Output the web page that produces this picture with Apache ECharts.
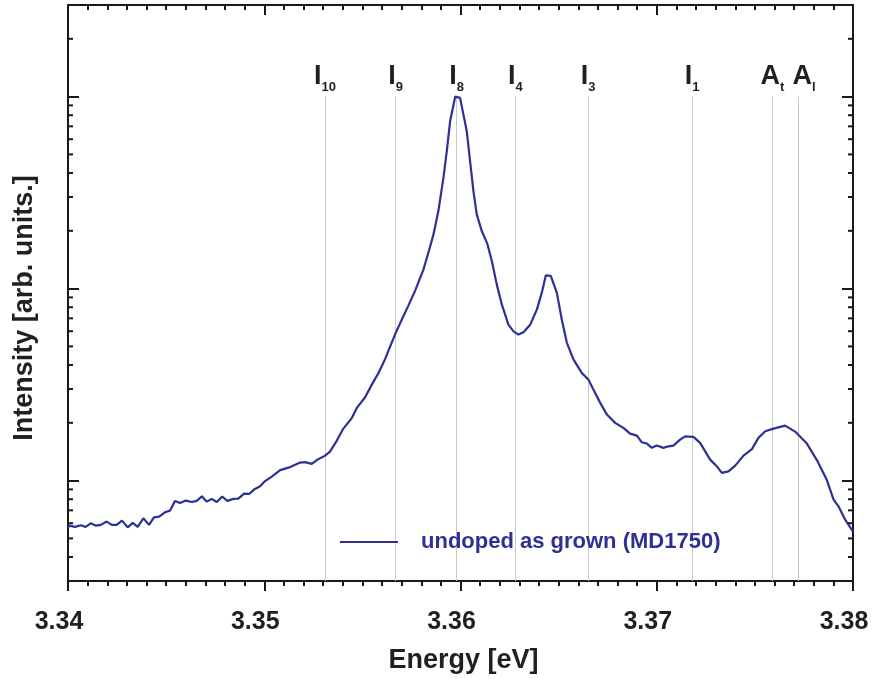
<!DOCTYPE html>
<html>
<head>
<meta charset="utf-8">
<script src="https://cdn.jsdelivr.net/npm/echarts@6/dist/echarts.min.js"></script>
<style>
  html, body { margin: 0; padding: 0; background: #fff; }
  #chart { width: 874px; height: 679px; }
</style>
</head>
<body>
<div id="chart"></div>
<script>
// Photoluminescence spectrum, undoped as grown (MD1750)
const energy = [
  3.34000, 3.34007, 3.34036, 3.34065, 3.34090, 3.34116, 3.34141, 3.34167, 3.34197, 3.34223,
  3.34248, 3.34275, 3.34304, 3.34330, 3.34355, 3.34384, 3.34413, 3.34438, 3.34464, 3.34494,
  3.34520, 3.34545, 3.34571, 3.34600, 3.34631, 3.34656, 3.34682, 3.34707, 3.34732, 3.34758,
  3.34786, 3.34812, 3.34843, 3.34868, 3.34897, 3.34923, 3.34948, 3.34979, 3.35004, 3.35035,
  3.35081, 3.35132, 3.35183, 3.35208, 3.35242, 3.35268, 3.35310, 3.35335, 3.35370, 3.35403,
  3.35446, 3.35473, 3.35514, 3.35548, 3.35582, 3.35616, 3.35650, 3.35670, 3.35701, 3.35735,
  3.35769, 3.35811, 3.35836, 3.35862, 3.35887, 3.35913, 3.35930, 3.35947, 3.35973, 3.35998,
  3.36015, 3.36032, 3.36049, 3.36066, 3.36083, 3.36109, 3.36137, 3.36160, 3.36185, 3.36211,
  3.36244, 3.36270, 3.36295, 3.36321, 3.36355, 3.36389, 3.36414, 3.36435, 3.36460, 3.36491,
  3.36516, 3.36542, 3.36576, 3.36618, 3.36652, 3.36677, 3.36712, 3.36746, 3.36788, 3.36830,
  3.36864, 3.36899, 3.36924, 3.36950, 3.36975, 3.37000, 3.37034, 3.37060, 3.37085, 3.37119,
  3.37145, 3.37187, 3.37221, 3.37272, 3.37306, 3.37332, 3.37365, 3.37400, 3.37442, 3.37485,
  3.37518, 3.37553, 3.37595, 3.37654, 3.37705, 3.37765, 3.37816, 3.37867, 3.37901, 3.37926,
  3.37960, 3.38000
];
const intensity = [
  0.00569, 0.00583, 0.00574, 0.00585, 0.00574, 0.00599, 0.00583, 0.00588, 0.00612, 0.00588,
  0.00588, 0.00619, 0.00571, 0.00602, 0.00574, 0.00636, 0.00588, 0.00644, 0.00649, 0.00684,
  0.00698, 0.00784, 0.00765, 0.00787, 0.00774, 0.00784, 0.00828, 0.00777, 0.00803, 0.00774,
  0.00825, 0.00784, 0.00803, 0.00806, 0.00855, 0.00852, 0.00898, 0.00934, 0.00994, 0.01043,
  0.01134, 0.01176, 0.01241, 0.01249, 0.01223, 0.01279, 0.01349, 0.01416, 0.01616, 0.01866,
  0.02116, 0.02400, 0.02716, 0.03162, 0.03638, 0.04304, 0.05252, 0.05880, 0.06900, 0.08180,
  0.09760, 0.1256, 0.1534, 0.1910, 0.2527, 0.3773, 0.5188, 0.7435, 1.0000, 0.9845,
  0.8058, 0.6597, 0.4603, 0.3211, 0.2429, 0.1988, 0.1709, 0.1387, 0.1049, 0.0825,
  0.0649, 0.0599, 0.0576, 0.0592, 0.0649, 0.0777, 0.0950, 0.1173, 0.1165, 0.0950,
  0.0690, 0.0522, 0.0427, 0.03638, 0.03357, 0.02979, 0.02540, 0.02207, 0.01998, 0.01881,
  0.01757, 0.01715, 0.01583, 0.01559, 0.01481, 0.01522, 0.01481, 0.01509, 0.01522, 0.01635,
  0.01701, 0.01689, 0.01572, 0.01286, 0.01187, 0.01097, 0.01118, 0.01197, 0.01349, 0.01459,
  0.01669, 0.01806, 0.01866, 0.01934, 0.01800, 0.01559, 0.01279, 0.01006, 0.00796, 0.00735,
  0.00626, 0.00543
];

// Line positions of the bound-exciton and free-exciton transitions
const transitionEnergy = [3.3531, 3.3567, 3.3598, 3.3628, 3.3665, 3.3718, 3.3759, 3.3772];
const transitionMain = ['I', 'I', 'I', 'I', 'I', 'I', 'A', 'A'];
const transitionSub = ['10', '9', '8', '4', '3', '1', 't', 'l'];

// Axis ranges and log-axis minor tick values
const xMin = 3.34, xMax = 3.38, xStep = 0.01;
const yMin = 0.003, yMax = 3;
const yMinorTicks = [0.004, 0.005, 0.006, 0.007, 0.008, 0.009,
  0.02, 0.03, 0.04, 0.05, 0.06, 0.07, 0.08, 0.09,
  0.2, 0.3, 0.4, 0.5, 0.6, 0.7, 0.8, 0.9, 2];

const seriesName = 'undoped as grown (MD1750)';
const FONT = '"Liberation Sans", Arial, Helvetica, sans-serif';
const AXIS = '#1a1a1a';
const TEXT = '#231f20';
const BLUE = '#2e3192';

const chart = echarts.init(document.getElementById('chart'), null, { renderer: 'canvas' });

const commonX = {
  type: 'value', min: xMin, max: xMax, interval: xStep,
  splitLine: { show: false },
  axisLine: { show: true, onZero: false, lineStyle: { color: AXIS, width: 2 } },
  minorTick: { show: true, splitNumber: 10, length: 5, lineStyle: { color: AXIS, width: 2 } }
};
const commonY = {
  type: 'log', logBase: 10, min: yMin, max: yMax,
  splitLine: { show: false },
  axisLabel: { show: false },
  axisLine: { show: true, lineStyle: { color: AXIS, width: 2 } },
  axisTick: { show: true, inside: true, length: 11, lineStyle: { color: AXIS, width: 2 } }
};

const markData = transitionEnergy.map((e, i) => {
  const start = {
    coord: [e, 1],
    label: { formatter: '{m|' + transitionMain[i] + '}{s|' + transitionSub[i] + '}' }
  };
  if (transitionSub[i] === 'l') start.label.offset = [6, 0];
  return [start, { coord: [e, yMin] }];
});

chart.setOption({
  animation: false,
  backgroundColor: '#ffffff',
  textStyle: { fontFamily: FONT },
  grid: { left: 68, right: 21, top: 5, bottom: 98, containLabel: false, outerBoundsMode: 'none' },
  legend: {
    show: true,
    left: 340, top: 531,
    padding: 0,
    itemWidth: 58, itemHeight: 2,
    data: [{ name: seriesName, icon: 'rect' }],
    textStyle: {
      color: BLUE, fontSize: 22, fontWeight: 'bold', fontFamily: FONT,
      padding: [0, 0, 0, 18]
    }
  },
  xAxis: [
    Object.assign({}, commonX, {
      position: 'bottom',
      name: 'Energy [eV]',
      nameLocation: 'middle',
      nameGap: 66,
      nameTextStyle: { color: TEXT, fontSize: 27, fontWeight: 'bold', fontFamily: FONT, padding: [0, 0, 0, 6] },
      axisTick: { show: true, inside: false, length: 10, lineStyle: { color: AXIS, width: 2 } },
      minorTick: { show: true, splitNumber: 10, length: 5, lineStyle: { color: AXIS, width: 2 } },
      axisLabel: {
        show: true, margin: 29,
        color: TEXT, fontSize: 25, fontWeight: 'bold', fontFamily: FONT,
        padding: [0, 18, 0, 0],
        formatter: v => v.toFixed(2)
      }
    }),
    Object.assign({}, commonX, {
      position: 'top',
      axisTick: { show: true, inside: true, length: 10, lineStyle: { color: AXIS, width: 2 } },
      axisLabel: { show: false }
    })
  ],
  yAxis: [
    Object.assign({}, commonY, {
      position: 'left',
      name: 'Intensity [arb. units.]',
      nameLocation: 'middle',
      nameGap: 30,
      nameTextStyle: { color: TEXT, fontSize: 27, fontWeight: 'bold', fontFamily: FONT, padding: [0, 30, 0, 0] }
    }),
    Object.assign({}, commonY, { position: 'right' })
  ],
  series: [
    {
      name: seriesName,
      type: 'line',
      xAxisIndex: 0, yAxisIndex: 0,
      data: energy.map((e, i) => [e, intensity[i]]),
      showSymbol: false, symbol: 'none',
      lineStyle: { color: BLUE, width: 2.2 },
      itemStyle: { color: BLUE },
      z: 3,
      markLine: {
        silent: true,
        symbol: ['none', 'none'],
        animation: false,
        lineStyle: { color: '#c8c8c8', width: 1, type: 'solid' },
        label: {
          show: true,
          position: 'start',
          distance: 3,
          color: TEXT,
          rich: {
            m: { fontSize: 27, fontWeight: 'bold', fontFamily: FONT, color: TEXT, padding: [0, 0, 4, 0] },
            s: { fontSize: 13, fontWeight: 'bold', fontFamily: FONT, color: TEXT, verticalAlign: 'bottom' }
          }
        },
        z: 1,
        data: markData
      }
    },
    {
      // minor ticks of the logarithmic intensity axis, on both vertical frame edges
      type: 'custom',
      xAxisIndex: 0, yAxisIndex: 0,
      silent: true,
      data: yMinorTicks.map(v => [v]),
      encode: { y: 0 },
      renderItem: function (params, api) {
        const v = api.value(0);
        const pl = api.coord([xMin, v]);
        const pr = api.coord([xMax, v]);
        const style = { stroke: AXIS, lineWidth: 2 };
        return {
          type: 'group',
          children: [
            { type: 'line', shape: { x1: pl[0], y1: pl[1], x2: pl[0] + 5, y2: pl[1] }, style: style },
            { type: 'line', shape: { x1: pr[0], y1: pr[1], x2: pr[0] - 5, y2: pr[1] }, style: style }
          ]
        };
      },
      z: 5
    }
  ]
});
</script>
</body>
</html>
